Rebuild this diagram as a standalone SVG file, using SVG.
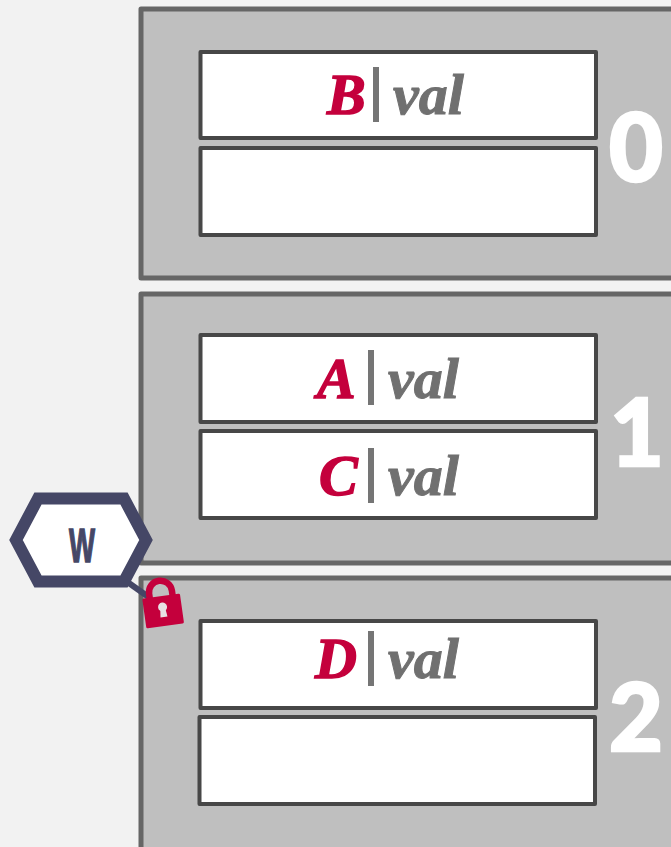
<svg xmlns="http://www.w3.org/2000/svg" width="671" height="847" viewBox="0 0 671 847">
<style>
.part{fill:#bfbfbf;stroke:#666;stroke-width:5;stroke-linejoin:round}
.slot{fill:#fff;stroke:#474747;stroke-width:4;stroke-linejoin:round}
.key{font:italic bold 58px "Liberation Serif",serif;fill:#c4003c;stroke:#c4003c;stroke-width:1.500}
.val{font:italic bold 58px "Liberation Serif",serif;fill:#707070;stroke:#707070;stroke-width:1}
.bar{stroke:#757575;stroke-width:6;fill:none}
.num{font:900 93px Lato,sans-serif;fill:#fff;stroke:#fff;stroke-width:2.500;text-anchor:middle}
</style>
<rect width="671" height="847" fill="#f2f2f2"/>
<g id="partition-0">
<rect class="part" x="141" y="9" width="540" height="269"/>
<rect class="slot" x="200.500" y="52" width="395.500" height="86"/>
<rect class="slot" x="200.500" y="148" width="395.500" height="87"/>
<text class="key" x="327" y="114">B</text><path class="bar" d="M376 67V122"/><text class="val" x="393" y="114">val</text>
<text class="num" x="636" y="181">0</text>
</g>
<g id="partition-1">
<rect class="part" x="141" y="294" width="540" height="269"/>
<rect class="slot" x="200.500" y="335" width="395.500" height="87"/>
<rect class="slot" x="200.500" y="431" width="395.500" height="87"/>
<text class="key" x="317" y="398">A</text><path class="bar" d="M371 350V405"/><text class="val" x="388" y="398">val</text>
<text class="key" x="319" y="495">C</text><path class="bar" d="M371 448V503"/><text class="val" x="388" y="495">val</text>
<text class="num" x="637" y="466">1</text>
</g>
<g id="partition-2">
<rect class="part" x="141" y="578" width="540" height="275"/>
<rect class="slot" x="200.500" y="621" width="395.500" height="87"/>
<rect class="slot" x="199.500" y="717" width="395.500" height="87"/>
<text class="key" x="315" y="678">D</text><path class="bar" d="M371 631V686"/><text class="val" x="388" y="678">val</text>
<text class="num" x="636" y="751">2</text>
</g>
<g id="connectors">
<path d="M126 581L150 598" stroke="#454766" stroke-width="6" fill="none"/>
</g>
<g id="writer">
<polygon points="38,498.500 124,498.500 146,540 124,581.500 38,581.500 16,540" fill="#fff" stroke="#454766" stroke-width="12"/>
<text x="82" y="562" font-family="'Liberation Sans',sans-serif" font-weight="bold" font-size="49" fill="#454766" stroke="#454766" stroke-width="1.500" text-anchor="middle" textLength="26" lengthAdjust="spacingAndGlyphs">W</text>
</g>
<g id="lock" transform="rotate(-8 163 610)">
<path d="M151.500 600V592a11.500 11.500 0 0 1 23 0V600" fill="none" stroke="#c4003c" stroke-width="6.500"/>
<rect x="144" y="596" width="38" height="30" rx="1.500" fill="#c4003c"/>
<circle cx="163" cy="607" r="4.500" fill="#e8e0e4"/>
<path d="M160.500 608h5l1 9h-7z" fill="#e8e0e4"/>
</g>
</svg>
